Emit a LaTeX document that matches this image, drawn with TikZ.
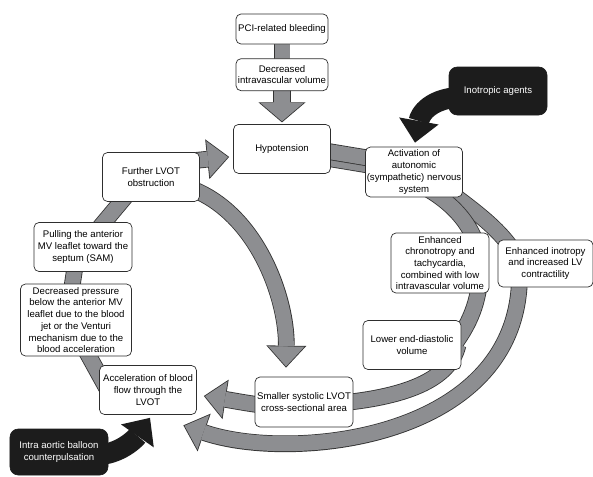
\documentclass[tikz,border=0pt]{standalone}
\usepackage{fontspec}
\setmainfont{Liberation Sans}
\usetikzlibrary{arrows.meta}
\usetikzlibrary{positioning}
\usetikzlibrary{backgrounds}
\definecolor{boxline}{HTML}{2E2E2E}
\definecolor{flowgrey}{HTML}{8D8E91}
\definecolor{flowline}{HTML}{333333}
\definecolor{boxblack}{HTML}{1C1C1C}
\newcommand{\boxfont}{\fontsize{8.2}{10}\selectfont}
\tikzset{
  box/.style={draw=boxline, line width=0.6pt, fill=white, rounded corners=0.15cm, align=center,
    inner sep=1pt, minimum width=2.91cm, minimum height=1.47cm, font=\boxfont},
  darkbox/.style={box, draw=boxblack, fill=boxblack, text=white, rounded corners=0.25cm},
  % grey bands with a dark rim
  band/.style={line width=0.45cm, draw=flowgrey, preaction={draw=flowline, line width=0.5cm}},
  flow/.style={line width=0.45cm, draw=flowgrey, shorten >=1.06pt,
    -{Triangle[length=0.598cm, width=1.087cm, line width=0pt]},
    preaction={draw=flowline, line width=0.5cm, shorten >=0pt,
      -{Triangle[length=0.66cm, width=1.2cm, line width=0pt]}}},
  mainflow/.style={line width=0.49cm, draw=flowgrey, shorten >=0.94pt,
    -{Triangle[length=0.542cm, width=1.275cm, line width=0pt]},
    preaction={draw=flowline, line width=0.54cm, shorten >=0pt,
      -{Triangle[length=0.6cm, width=1.41cm, line width=0pt]}}},
  push/.style={line width=0.62cm, draw=boxblack, -{Triangle[length=0.66cm, width=1.2cm, line width=0pt]}},
}

\begin{document}
\begin{tikzpicture}[x=0.03cm, y=-0.03cm]
  \useasboundingbox (0,0) rectangle (593,476);

  % top of the chain
  \node[box, minimum width=2.76cm, minimum height=0.9cm] (bleed) at (282,29) {PCI-related bleeding};
  \node[box, minimum width=2.76cm, minimum height=0.96cm, below=0.42cm of bleed] (volume) {Decreased\\intravascular volume};
  \node[box, below=0.99cm of volume] (hypo) {Hypotension};

  % right half
  \node[box, minimum height=1.5cm] (activ) at (414,172) {Activation of\\autonomic\\(sympathetic) nervous\\system};
  \node[darkbox, minimum width=2.94cm, minimum height=1.44cm] (inotropic) at (498,91) {Inotropic agents};
  \node[box, minimum width=2.94cm, minimum height=1.8cm] (chrono) at (440,263) {Enhanced\\chronotropy and\\tachycardia,\\combined with low\\intravascular volume};
  \node[box, minimum width=2.85cm, minimum height=1.41cm] (inotropy) at (545.5,263.5) {Enhanced inotropy\\and increased LV\\contractility};
  \node[box, minimum width=2.94cm] (lowered) at (412,345) {Lower end-diastolic\\volume};
  \node[box, minimum width=2.94cm, minimum height=1.5cm] (smaller) at (304,402) {Smaller systolic LVOT\\cross-sectional area};

  % left half
  \node[box] (accel) at (148,390) {Acceleration of blood\\flow through the\\LVOT};
  \node[darkbox, minimum width=2.94cm, minimum height=1.38cm] (iabp) at (59,452) {Intra aortic balloon\\counterpulsation};
  \node[box, minimum width=3.33cm, minimum height=2.16cm] (pressure) at (76,320) {Decreased pressure\\below the anterior MV\\leaflet due to the blood\\jet or the Venturi\\mechanism due to the\\blood acceleration};
  \node[box, minimum width=2.94cm] (pulling) at (83,247) {Pulling the anterior\\MV leaflet toward the\\septum (SAM)};
  \node[box] (further) at (151,177) {Further LVOT\\obstruction};

  \begin{scope}[on background layer]
    % bleeding -> hypotension
    \draw[band] (bleed.center) -- (volume.center);
    \draw[mainflow] (volume.center) -- ([yshift=0.05cm]hypo.north);

    % left loop
    \draw[band] ([shift={(-36,8)}]accel.center) -- ([shift={(4,20)}]pressure.center);
    \draw[band] ([shift={(-6,-20)}]pressure.center) -- ([shift={(-7,13)}]pulling.center);
    \draw[band] ([shift={(12,-14)}]pulling.center) -- ([shift={(-20,13)}]further.center);
    \draw[flow] ([shift={(30,-15)}]further.center) -- ([shift={(-4,8)}]hypo.west);
    \draw[flow] ([shift={(29,8)}]further.center) .. controls +(75,20) and +(1,-70) .. ([shift={(-18,-9)}]smaller.north);

    % outer path over the inotropy
    \draw[band] ([shift={(37,8)}]hypo.center) -- ([shift={(-34,-5)}]activ.center);
    \draw[band] ([shift={(16,5)}]activ.center) .. controls +(35,28) and +(-15,-34) .. ([shift={(-26,-1)}]inotropy.center);
    \draw[flow] ([shift={(-26,12)}]inotropy.center) .. controls +(0,165) and +(107,37) .. ([shift={(-13.5,10.5)}]accel.south east);

    % inner path over the chronotropy
    \draw[band] ([shift={(37,1)}]hypo.center) -- ([shift={(-34,-12)}]activ.center);
    \draw[band] ([shift={(-9,6)}]activ.center) .. controls +(35,14) and +(-2,-45) .. ([shift={(40,2)}]chrono.center);
    \draw[band] ([shift={(40,7)}]chrono.center) .. controls +(0,30) and +(20,-25) .. ([shift={(38,5)}]lowered.center);
    \draw[band] ([shift={(46,0)}]lowered.center) .. controls +(-8,35) and +(75,-6) .. ([shift={(26,2)}]smaller.center);
    \draw[flow] ([shift={(-4,6)}]smaller.center) .. controls +(-30,0) and +(32,5) .. ([shift={(7,6)}]accel.east);

    % interventions
    \draw[push] ([shift={(-33,6)}]inotropic.center) .. controls +(-35,0) and +(5,-28) .. ([shift={(1,-4)}]activ.north);
    \draw[push] ([shift={(36,3)}]iabp.center) .. controls +(25,0) and +(-14,20) .. ([shift={(2,3)}]accel.south);
  \end{scope}
\end{tikzpicture}
\end{document}
